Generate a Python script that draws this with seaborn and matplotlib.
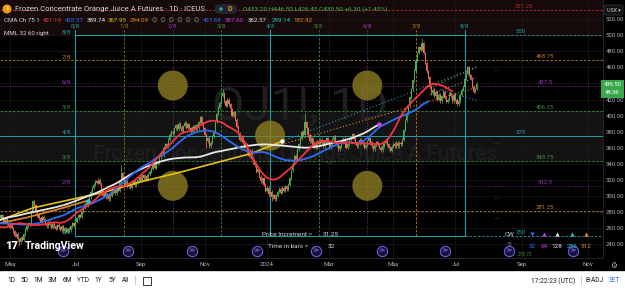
import numpy as np
import pandas as pd
import matplotlib
matplotlib.use("Agg")
import matplotlib.pyplot as plt
import seaborn as sns
from matplotlib.patches import Ellipse, Rectangle, FancyBboxPatch

# ---------------- data ----------------
last_session = "2024-07-22"
exchange_holidays = ["2023-05-29", "2023-06-19", "2023-07-04", "2023-09-04",
                     "2023-11-23", "2023-12-25", "2024-01-01", "2024-01-15",
                     "2024-02-19", "2024-03-29", "2024-05-27", "2024-06-19",
                     "2024-07-04", "2024-09-02", "2024-11-28", "2024-12-25"]

close_spring_2023 = [274, 278, 272, 276, 270, 268, 273, 266, 262, 265, 260,
                     256, 250, 253, 246, 242, 248, 245,
                     252, 258, 262, 266, 264,
                     280, 293, 288,
                     281, 276, 272, 268, 274, 270,
                     266, 262, 268, 264, 260, 265, 262, 259, 264, 261,
                     258, 262, 256, 260, 255, 259, 257,
                     262, 266, 263, 268]
close_summer_2023 = [272, 276, 274, 280,
                     285, 290, 288, 295, 298,
                     305, 310, 314, 318, 316, 320, 315,
                     306, 300, 303, 298, 302, 296, 300,
                     304, 308, 303, 309, 306,
                     318, 328,
                     320, 314, 318, 312, 316, 310, 315, 318, 313, 317,
                     320, 324, 319, 326, 322, 325, 320, 327,
                     330, 334, 338, 335, 340, 342,
                     348, 354, 352, 360, 364, 362,
                     370, 376, 380, 378,
                     384, 388, 383, 390, 386, 381, 387, 391, 385, 389, 384, 380, 386, 382, 388, 384]
close_winter_2023 = [392, 398, 390, 384,
                     376, 368, 372, 362, 366, 374, 380,
                     392, 402, 410, 416,
                     425, 428,
                     418, 412, 420, 414,
                     408, 400, 404, 395,
                     386, 378, 370, 374,
                     366, 360, 364, 355, 350, 356, 346, 342,
                     338, 330, 334, 324, 318, 322,
                     314, 306, 310, 302, 305, 298, 301, 296,
                     300, 305, 309, 304, 310, 306, 312, 308,
                     314, 322, 332, 340,
                     350, 345, 358, 364,
                     372, 380, 376, 392, 384,
                     376, 368, 372, 362, 366, 360, 368, 364, 370, 366]
close_2024 = [362, 368, 372, 366, 360, 364, 370, 374, 368, 363,
              358, 362, 367, 371, 365, 360, 364, 369, 373, 377,
              371, 366, 362, 365, 370, 368, 364, 360, 363, 368,
              372, 367, 362, 358, 363, 367, 364, 360, 357, 362,
              366, 370, 364, 360, 356, 361, 365, 362, 366,
              362, 366, 364, 370,
              382, 394, 403, 412, 423, 433, 444, 456, 468,
              478, 485, 482, 490,
              478, 466, 455, 448,
              436, 428, 432, 424, 430,
              420, 426, 418, 424, 430, 422, 417,
              420, 428, 424, 418, 426, 420,
              414, 418,
              426, 432, 436,
              446, 452, 460,
              450, 446,
              436, 430,
              433.2, 439.5]
high_spikes = {82: 338, 149: 433, 203: 403, 280: 497, 276: 472}
low_spikes = {15: 238, 181: 293, 138: 360}

cma_windows = [32, 64, 128]
cma256_session = [0, 24, 48, 72, 96, 120, 144, 168, 188]
cma256_value = [268, 285, 295, 305, 318, 329, 341, 353, 368]
cma512_session = [0, 20, 40, 60]
cma512_value = [265, 273, 283, 294]

proj_teal = ([188, 316], [368, 460])
proj_orange = ([188, 316], [364, 435])
proj_gray_a = ([285, 316], [434, 461])
proj_gray_b = ([285, 316], [426, 448])
proj_blue = ([292, 316], [432, 419])

mml_levels = [250.0, 281.25, 312.5, 343.75, 375.0, 406.25, 437.5, 468.75, 500.0, 531.25]
mml_names = ["0/8", "1/8", "2/8", "3/8", "4/8", "5/8", "6/8", "7/8", "8/8", "+1/8"]
mml_right_labels = ["250", "281.25", "312.5", "343.75", "375", "406.25", "437.5", "468.75", "500", "531.25"]
time_in_bars = 32
price_increment = 31.25
price_ticks = list(range(240, 521, 20))
last_price_label = ("439.50", "48:36")

# ---------------- style ----------------
sns.set_theme(style="dark", rc={"axes.facecolor": "#000000", "figure.facecolor": "#000000"})
plt.rcParams["font.family"] = ["Roboto", "DejaVu Sans"]

W, H = 625, 292
AX_R, AX_B = 603, 258
JAN_PX, PX_PER_BAR = 267, 1.52
PRICE_TOP, PRICE_BOTTOM = 544.05, 222.55
PX_PER_PRICE = AX_B / (PRICE_TOP - PRICE_BOTTOM)

TEAL, ORANGE, PURPLE, GREEN, REDL, OLIVE = "#1f9ea8", "#c47d1e", "#a62fc2", "#3f8f3f", "#b3262a", "#8a7a2e"
UP, DOWN = "#4caf50", "#ef6a55"
MA_COLORS = ["#f7323f", "#2f6cf5", "#e8e8e8"]
YELLOW, MAORANGE = "#e3c21b", "#e58a22"
GRAYTXT = "#b2b5be"

fig = plt.figure(figsize=(6.25, 2.92), dpi=100)
fig.patch.set_facecolor("#000000")
ax = fig.add_axes([0, 1 - AX_B / H, AX_R / W, AX_B / H])
ax.set_facecolor("#000000")

# ---------------- prepare series ----------------
closes = np.array(close_spring_2023 + close_summer_2023 + close_winter_2023 + close_2024, dtype=float)
N = len(closes)
cal = pd.bdate_range("2023-03-01", "2024-12-31", freq="C", holidays=exchange_holidays)
dates = cal[cal <= pd.Timestamp(last_session)][-N:]
pos = cal.get_indexer(dates).astype(float)
i_jan = cal.get_indexer([pd.Timestamp("2024-01-02")])[0]

def px2x(px):
    return i_jan + (px - JAN_PX) / PX_PER_BAR

opens = np.r_[closes[0] - 3, closes[:-1]]
highs = np.maximum(opens, closes) + 1.8
lows = np.minimum(opens, closes) - 1.8
for k, v in high_spikes.items():
    highs[k] = v
for k, v in low_spikes.items():
    lows[k] = v

ax.set_xlim(px2x(0), px2x(AX_R))
ax.set_ylim(PRICE_BOTTOM, PRICE_TOP)

# background bands
ax.axhspan(500, 600, color="#170a0a", zorder=0)
ax.axhspan(343.75, 406.25, color="#131313", zorder=0)

# grid
for p in price_ticks:
    ax.axhline(p, color="#1b1b1b", lw=0.5, zorder=0.5)
month_starts = pd.date_range("2023-05-01", "2024-11-01", freq="2MS")
month_pos, month_lab = [], []
for m in month_starts:
    idx = np.searchsorted(cal.values, np.datetime64(m))
    month_pos.append(idx)
    month_lab.append(str(m.year) if m.month == 1 else m.strftime("%b"))
for mp in month_pos:
    ax.axvline(mp, color="#1b1b1b", lw=0.5, zorder=0.5)

# watermark
ax.text(300 / AX_R, 1 - 106 / AX_B, "OJ1!, 1D", transform=ax.transAxes, ha="center", va="center",
        fontsize=34, color="#1f1f1f", zorder=1)
ax.text(295 / AX_R, 1 - 155 / AX_B, "Frozen Concentrate Orange Juice A Futures", transform=ax.transAxes,
        ha="center", va="center", fontsize=15, color="#1f1f1f", zorder=1)

# ---------------- Murrey math ----------------
box_end = int(pos[N - 1 - 8])
box_start = box_end - 8 * time_in_bars
lvl_style = [(TEAL, "-"), (ORANGE, (0, (3, 2))), (PURPLE, (0, (1, 2))), (GREEN, (0, (3, 2))),
             (TEAL, "-"), (GREEN, (0, (3, 2))), (PURPLE, (0, (1, 2))), (ORANGE, (0, (3, 2))),
             (TEAL, "-"), (REDL, (0, (3, 2)))]
for k, lv in enumerate(mml_levels):
    c, ls = lvl_style[k]
    if k in (0, 8):
        ax.plot([box_start, box_end], [lv, lv], color=c, lw=0.8, ls="-", zorder=2)
        ax.plot([box_end, px2x(AX_R)], [lv, lv], color=c, lw=0.6, ls=(0, (3, 2)), zorder=2)
    else:
        ax.axhline(lv, color=c, lw=0.7 if ls == "-" else 0.6, ls=ls, zorder=2)
vstyle = [(TEAL, "-"), (OLIVE, (0, (3, 2))), (PURPLE, (0, (1, 2))), (GREEN, (0, (3, 2))), (TEAL, "-"),
          (GREEN, (0, (3, 2))), (PURPLE, (0, (1, 2))), (ORANGE, (0, (3, 2))), (TEAL, "-")]
top_lbl_y = PRICE_TOP - 26 / PX_PER_PRICE
for k in range(9):
    xk = box_start + k * time_in_bars
    c, ls = vstyle[k]
    ax.plot([xk, xk], [250, PRICE_TOP - 30 / PX_PER_PRICE], color=c, lw=0.8 if ls == "-" else 0.6,
            ls=ls, zorder=2)
    ax.text(xk, top_lbl_y, mml_names[k], color=c, fontsize=4.3, ha="center", va="center", zorder=8)

# level labels left / right
off = 3.5 / PX_PER_PRICE
for k in range(9):
    c = lvl_style[k][0]
    ax.text(px2x(66), mml_levels[k] + off, mml_names[k], color=c, fontsize=4.3, ha="center",
            va="center", zorder=8)
for k in range(10):
    c = lvl_style[k][0]
    cx = 521 if mml_right_labels[k] in ("500", "375", "250") else 545
    if k == 9:
        cx = 524
    ax.text(px2x(cx), mml_levels[k] + off, mml_right_labels[k], color=c, fontsize=4.3, ha="center",
            va="center", zorder=8)

# circles
rw, rh = 30 / PX_PER_BAR, 30 / PX_PER_PRICE
for tk, lk in [(2, 6), (2, 2), (4, 4), (6, 6), (6, 2)]:
    ax.add_patch(Ellipse((box_start + tk * time_in_bars, mml_levels[lk]), rw, rh,
                         facecolor="#8c7d22", edgecolor="none", alpha=0.8, zorder=3))

# ---------------- candles ----------------
up = closes >= opens
body_b = np.minimum(opens, closes)
body_h = np.maximum(np.abs(closes - opens), 0.7)
for mask, col in [(up, UP), (~up, DOWN)]:
    ax.vlines(pos[mask], lows[mask], highs[mask], color=col, lw=0.55, zorder=5)
    ax.bar(pos[mask], body_h[mask], bottom=body_b[mask], width=0.72, color=col, lw=0, zorder=5)

# ---------------- centred moving averages ----------------
ser = pd.Series(closes)
sns.lineplot(x=pos[cma512_session], y=np.array(cma512_value, float), color=MAORANGE, lw=1.2, ax=ax,
             legend=False, zorder=6)
sns.lineplot(x=pos[cma256_session], y=np.array(cma256_value, float), color=YELLOW, lw=1.2, ax=ax,
             legend=False, zorder=6)
ma_last = {}
for w, col in reversed(list(zip(cma_windows, MA_COLORS))):
    m = ser.rolling(w, center=True, min_periods=1).mean().to_numpy()
    m[N - w // 2:] = np.nan
    ok = ~np.isnan(m)
    sns.lineplot(x=pos[ok], y=m[ok], color=col, lw=1.3, ax=ax, legend=False, zorder=6, sort=False)
    ma_last[w] = (pos[ok][-1], m[ok][-1])

for (xs, ys), col, ls in [(proj_teal, TEAL, (0, (1, 2))), (proj_orange, MAORANGE, (0, (1, 2))),
                          (proj_gray_a, "#888888", (0, (1, 2))), (proj_gray_b, "#888888", (0, (1, 2))),
                          (proj_blue, "#3a6fe0", (0, (1, 2)))]:
    sns.lineplot(x=pos[xs], y=np.array(ys, float), color=col, lw=0.8, ls=ls, ax=ax, legend=False, zorder=4)

ax.scatter([pos[cma512_session[-1]]], [cma512_value[-1]], s=5, color="#26c6da", zorder=7)
ax.scatter([pos[cma256_session[-1]]], [cma256_value[-1]], s=5, color="#ffffff", zorder=7)
ax.scatter([ma_last[128][0]], [ma_last[128][1]], s=5, color="#d040f0", zorder=7)

# ---------------- axes ----------------
ax.set_xlabel("")
ax.set_ylabel("")
ax.yaxis.tick_right()
ax.set_yticks(price_ticks)
# the tick under the last-price tag is hidden in the reference
ax.set_yticklabels(["" if p == 440 else f"{p:.2f}" for p in price_ticks])
ax.set_xticks(month_pos)
ax.set_xticklabels(month_lab)
ax.tick_params(axis="y", length=0, pad=2.2, labelsize=4.3, labelcolor=GRAYTXT)
ax.tick_params(axis="x", length=0, pad=3.2, labelsize=4.4, labelcolor=GRAYTXT)
ax.grid(False)
for s in ["top", "left"]:
    ax.spines[s].set_visible(False)
for s in ["right", "bottom"]:
    ax.spines[s].set_color("#2a2a2a")
    ax.spines[s].set_linewidth(0.6)
ax.set_ylim(PRICE_BOTTOM, PRICE_TOP)
ax.set_xlim(px2x(0), px2x(AX_R))

# ---------------- overlay texts (pixel layout) ----------------
def ft(px, py, s, color, size, ha="left", va="center", **kw):
    fig.text(px / W, 1 - py / H, s, color=color, fontsize=size, ha=ha, va=va, **kw)

def fpatch(px, py, w, h, **kw):
    fig.add_artist(FancyBboxPatch((px / W, 1 - (py + h) / H), w / W, h / H,
                                  transform=fig.transFigure, **kw))

# header
fig.add_artist(Ellipse((7 / W, 1 - 9 / H), 9 / W, 9 / H, transform=fig.transFigure,
                       facecolor="#f39c12", edgecolor="none"))
ft(7, 9, "i", "white", 4.5, ha="center", fontweight="bold")
ft(15, 9, "Frozen Concentrate Orange Juice A Futures · 1D · ICEUS", "#d1d4dc", 5.5)
fpatch(215, 4, 22, 10, boxstyle="round,pad=0,rounding_size=0.012", facecolor="#23262e", edgecolor="none")
fig.add_artist(Ellipse((221 / W, 1 - 9 / H), 3.5 / W, 3.5 / H, transform=fig.transFigure,
                       facecolor="#26a69a", edgecolor="none"))
ft(230, 9, "D", "#f0901a", 5, ha="center", fontweight="bold")
ft(243, 9, "O433.20 H446.50 L426.45 C439.50 +6.30 (+1.45%)", "#3fb950", 4.6)

ft(4, 21, "CMA Ch 75 1", "#d1d4dc", 4.4)
row2 = [(43, "431.19", "#f7323f"), (65, "420.57", "#2f6cf5"), (87, "389.74", "#e8e8e8"),
        (108, "367.95", YELLOW), (130, "294.09", MAORANGE), (152, "∅  ∅  ∅  ∅  ∅  ∅", "#9a9a9a"),
        (203, "437.68", "#2f6cf5"), (225, "387.60", "#c040e0"), (248, "362.57", "#e8e8e8"),
        (272, "299.14", "#26c6da"), (293, "182.92", MAORANGE)]
for px, s, c in row2:
    ft(px, 21, s, c, 4.4)
ft(4, 33, "MML 32 60 right", "#d1d4dc", 4.4)

# price axis extras
fpatch(604, 5, 19, 10, boxstyle="round,pad=0,rounding_size=0.004", facecolor="#111111",
       edgecolor="#3a3d45", linewidth=0.5)
ft(613.5, 10, "USX ▾", "#d1d4dc", 3.8, ha="center")
fig.add_artist(Rectangle((601 / W, 1 - 98 / H), 23 / W, 18 / H, transform=fig.transFigure,
                         facecolor="#3aa84a", edgecolor="none"))
ft(612.5, 85, last_price_label[0], "white", 4.2, ha="center")
ft(612.5, 92.5, last_price_label[1], "white", 4.2, ha="center")

# small dashes near right
for py, c in [(71, "#5a7fa0"), (143, "#a040c0"), (199, "#888888"), (218, TEAL)]:
    ft(497, py, "- -", c, 4, ha="center")

# bottom info
ft(262, 234, "Price Increment =", "#d1d4dc", 4.6)
ft(323, 234, f"{price_increment:.2f}", "#d1d4dc", 4.6)
ft(268, 246, "Time in bars =", "#d1d4dc", 4.6)
ft(328, 246, f"{time_in_bars}", "#d1d4dc", 4.6)
ft(510, 234, "CW", "#d1d4dc", 4.6, ha="center")
ft(510, 244, "75", "#777777", 3.6, ha="center")
tri = [(532, "v", "#2f6cf5", "32"), (544, "^", "#c040e0", "64"), (557, "^", "#e8e8e8", "128"),
       (572, "^", "#26c6da", "256"), (586, "^", MAORANGE, "512")]
for px, mk, c, s in tri:
    ax.scatter([px / AX_R], [1 - 234 / AX_B], marker=mk, s=9, color=c, transform=ax.transAxes,
               zorder=9, clip_on=False, linewidths=0)
    ft(px, 246, s, c, 4.6, ha="center")
ft(525, 255, "218.75", "#3f8f3f", 3.4, ha="center")

# replay icons
icon_x = [63, 128, 192, 257, 316, 382, 445, 509, 573]
ax.scatter([x / AX_R for x in icon_x], [1 - 251 / AX_B] * len(icon_x), s=55, marker="o",
           facecolor="#14143a", edgecolor="#6f5fd6", linewidths=0.8, transform=ax.transAxes,
           zorder=9, clip_on=False)
for x in icon_x:
    ft(x, 251, "≫", "#8c7cf0", 4.2, ha="center")

# logo
ft(5, 246, "17", "#ffffff", 8, fontweight="heavy")
ft(25, 246, "TradingView", "#ffffff", 7.6, fontweight="bold")

# gear
ft(613.5, 265, "⚙", GRAYTXT, 5.5, ha="center", family=["DejaVu Sans"])

# toolbar
fig.add_artist(Rectangle((0, 0), 1, 20 / H, transform=fig.transFigure, facecolor="#ffffff",
                         edgecolor="none"))
fig.add_artist(Rectangle((0, 20 / H), 1, 0.6 / H, transform=fig.transFigure, facecolor="#d6d6d6",
                         edgecolor="none"))
for px, s in [(11, "1D"), (24, "5D"), (38, "1M"), (52, "3M"), (67, "6M"), (83, "YTD"), (98, "1Y"),
              (112, "5Y"), (126, "All")]:
    ft(px, 281, s, "#131722", 4.8, ha="center")
fig.add_artist(Rectangle((135 / W, 1 - 285 / H), 0.6 / W, 9 / H, transform=fig.transFigure,
                         facecolor="#cccccc", edgecolor="none"))
fig.add_artist(Rectangle((143 / W, 1 - 285 / H), 8 / W, 8 / H, transform=fig.transFigure,
                         facecolor="none", edgecolor="#131722", linewidth=0.6))
ft(553, 281, "17:22:23 (UTC)", "#131722", 4.8, ha="center")
fig.add_artist(Rectangle((581 / W, 1 - 285 / H), 0.6 / W, 9 / H, transform=fig.transFigure,
                         facecolor="#cccccc", edgecolor="none"))
ft(595, 281, "B-ADJ", "#131722", 4.8, ha="center")
ft(615, 281, "SET", "#2962ff", 4.8, ha="center")

fig.savefig("out.png", dpi=100, facecolor=fig.get_facecolor())
